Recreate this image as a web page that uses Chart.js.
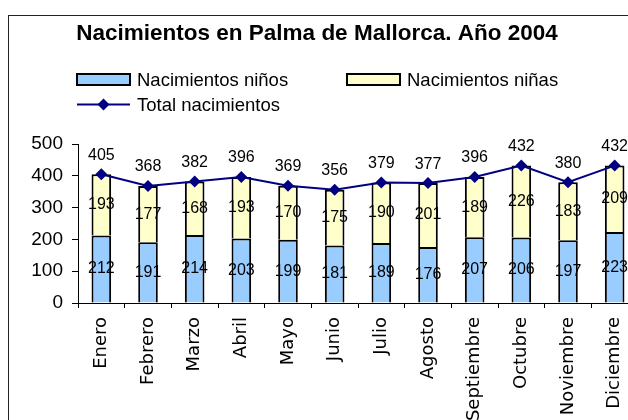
<!DOCTYPE html>
<html><head><meta charset="utf-8">
<script src="https://cdn.jsdelivr.net/npm/chart.js@4.4.1/dist/chart.umd.min.js"></script>
<style>
html,body{margin:0;padding:0;width:628px;height:420px;overflow:hidden;background:#fff;}
#wrap{position:absolute;left:0;top:0;width:660px;height:440px;}
#frame{position:absolute;left:8px;top:15px;width:700px;height:500px;border-left:1px solid #222;border-top:1px solid #222;pointer-events:none;}
</style></head><body>
<div id="wrap"><canvas id="c" width="660" height="440"></canvas></div>
<div id="frame"></div>
<script>
const titleText = 'Nacimientos en Palma de Mallorca. Año 2004';
const months = ['Enero','Febrero','Marzo','Abril','Mayo','Junio','Julio','Agosto','Septiembre','Octubre','Noviembre','Diciembre'];
const ninos = [212,191,214,203,199,181,189,176,207,206,197,223];
const ninas = [193,177,168,193,170,175,190,201,189,226,183,209];
const totals = [405,368,382,396,369,356,379,377,396,432,380,432];
const yTicks = [0,100,200,300,400,500];
const seriesNames = ['Nacimientos niños','Nacimientos niñas','Total nacimientos'];

const valueLabels = {
  id: 'valueLabels',
  afterDatasetsDraw(chart) {
    const ctx = chart.ctx;
    ctx.save();
    ctx.font = '16px "Liberation Sans", Arial, sans-serif';
    ctx.fillStyle = '#000';
    ctx.textAlign = 'center';
    ctx.textBaseline = 'middle';
    chart.data.datasets.forEach((ds, di) => {
      const meta = chart.getDatasetMeta(di);
      meta.data.forEach((el, i) => {
        const v = ds.data[i];
        const y = ds.type === 'line' ? el.y - 19 : (el.y + el.base) / 2;
        ctx.fillText(String(v), el.x, y);
      });
    });
    ctx.restore();
  }
};

const excelLegend = {
  id: 'excelLegend',
  afterDraw(chart, args, opts) {
    const ctx = chart.ctx;
    ctx.save();
    ctx.font = opts.font;
    ctx.textBaseline = 'middle';
    ctx.textAlign = 'left';
    opts.order.forEach((di, k) => {
      const ds = chart.data.datasets[di];
      const p = opts.positions[k];
      if (ds.type === 'line') {
        ctx.strokeStyle = ds.borderColor;
        ctx.lineWidth = ds.borderWidth;
        ctx.beginPath();
        ctx.moveTo(p.x, p.y); ctx.lineTo(p.x + opts.boxW, p.y);
        ctx.stroke();
        const cx = p.x + opts.boxW / 2, r = ds.pointRadius;
        ctx.fillStyle = ds.pointBackgroundColor;
        ctx.beginPath();
        ctx.moveTo(cx - r, p.y); ctx.lineTo(cx, p.y - r); ctx.lineTo(cx + r, p.y); ctx.lineTo(cx, p.y + r);
        ctx.closePath(); ctx.fill();
      } else {
        ctx.fillStyle = ds.backgroundColor;
        ctx.fillRect(p.x, p.y - opts.boxH / 2, opts.boxW, opts.boxH);
        ctx.strokeStyle = ds.borderColor;
        ctx.lineWidth = 2;
        ctx.strokeRect(p.x, p.y - opts.boxH / 2, opts.boxW, opts.boxH);
      }
      ctx.fillStyle = '#000';
      ctx.fillText(ds.label, p.x + opts.boxW + 7, p.y + 1.5);
    });
    ctx.restore();
  }
};

new Chart(document.getElementById('c'), {
  data: {
    labels: months,
    datasets: [
      { type: 'line', label: seriesNames[2], data: totals, order: 0,
        borderColor: '#000080', borderWidth: 2, pointStyle: 'rectRot', pointRadius: 6,
        pointBackgroundColor: '#000080', pointBorderColor: '#000080', pointBorderWidth: 0, tension: 0 },
      { type: 'bar', label: seriesNames[0], data: ninos, order: 1, stack: 's',
        backgroundColor: '#99CCFF', borderColor: '#000', borderWidth: 2, borderSkipped: 'start',
        barPercentage: 0.42, categoryPercentage: 1 },
      { type: 'bar', label: seriesNames[1], data: ninas, order: 1, stack: 's',
        backgroundColor: '#FFFFCC', borderColor: '#000', borderWidth: 2, borderSkipped: 'start',
        barPercentage: 0.42, categoryPercentage: 1 }
    ]
  },
  options: {
    responsive: false,
    animation: false,
    layout: { padding: { left: -4, right: 22, top: 0, bottom: 0 } },
    plugins: {
      legend: { display: false },
      tooltip: { enabled: false },
      title: { display: true, text: titleText, color: '#000',
        font: { family: '"Liberation Sans", Arial, sans-serif', size: 22.5, weight: 'bold', lineHeight: 1.2 },
        padding: { top: 20, bottom: 97 } },
      excelLegend: {
        font: '18.5px "Liberation Sans", Arial, sans-serif',
        boxW: 53, boxH: 11,
        order: [1, 2, 0],
        positions: [{x: 77, y: 79.5}, {x: 347, y: 79.5}, {x: 77, y: 104.5}]
      }
    },
    scales: {
      x: {
        stacked: true,
        offset: true,
        grid: { display: true, drawOnChartArea: false, drawTicks: true, tickLength: 5, color: '#000', offset: true },
        border: { display: true, color: '#000', width: 1 },
        ticks: { color: '#000', autoSkip: false, minRotation: 90, maxRotation: 90, padding: 9,
          font: { family: '"DejaVu Sans", sans-serif', size: 18 } },
        afterFit(s) { s.height = 137; }
      },
      y: {
        stacked: true,
        min: yTicks[0], max: yTicks[yTicks.length - 1],
        grid: { display: true, drawOnChartArea: false, drawTicks: true, tickLength: 6, color: '#000' },
        border: { display: true, color: '#000', width: 1 },
        ticks: { color: '#000', stepSize: yTicks[1] - yTicks[0], padding: 9,
          font: { family: '"Liberation Sans", Arial, sans-serif', size: 19 } },
        afterFit(s) { s.width = 82; }
      }
    }
  },
  plugins: [valueLabels, excelLegend]
});
</script>
</body></html>
